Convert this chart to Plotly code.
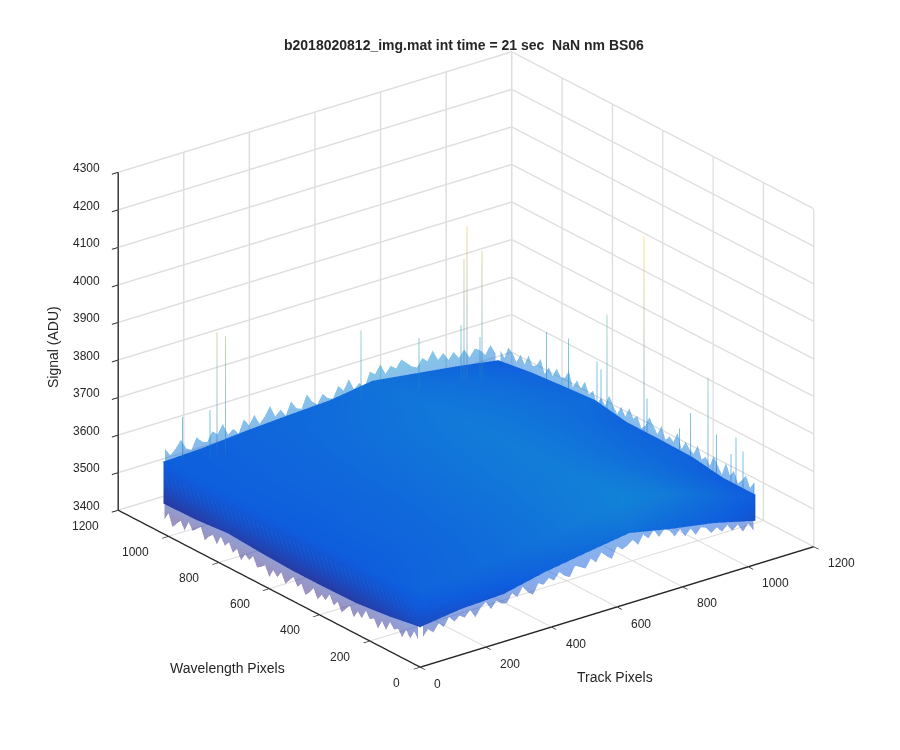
import plotly.graph_objects as go
import numpy as np

TITLE = "<b>b2018020812_img.mat int time = 21 sec \u00a0NaN nm BS06</b>"
TICKS_XY = [0, 200, 400, 600, 800, 1000, 1200]
TICKS_Z = [3400, 3500, 3600, 3700, 3800, 3900, 4000, 4100, 4200, 4300]

track_px = [0, 128, 256, 384, 512, 640, 768, 896, 1024]
wave_px = [0, 128, 256, 384, 512, 640, 768, 896, 1024]

# upper envelope of the noisy signal (rows: wavelength, columns: track)
signal_upper = [
    [3600, 3612, 3622, 3640, 3660, 3675, 3655, 3620, 3585],
    [3590, 3605, 3618, 3635, 3655, 3668, 3650, 3620, 3585],
    [3585, 3600, 3615, 3632, 3650, 3662, 3645, 3620, 3598],
    [3585, 3600, 3612, 3630, 3648, 3660, 3645, 3622, 3600],
    [3585, 3598, 3610, 3628, 3645, 3658, 3645, 3625, 3600],
    [3588, 3598, 3610, 3625, 3642, 3655, 3645, 3628, 3615],
    [3590, 3598, 3608, 3622, 3638, 3650, 3640, 3625, 3608],
    [3590, 3596, 3606, 3618, 3630, 3642, 3632, 3618, 3600],
    [3590, 3595, 3605, 3612, 3618, 3635, 3620, 3605, 3587],
]
# lower envelope along the two front edges
lower_front_track = [3505, 3520, 3525, 3550, 3568, 3585, 3562, 3543, 3515]
lower_front_wave = [3505, 3490, 3480, 3478, 3478, 3482, 3488, 3480, 3478]

# noise tips seen along the four edges (one every 16 pixels, starting at pixel 8)
edge_pixels = list(range(8, 1024, 16))
tips_back_left = [
    3622, 3601, 3615, 3634, 3607, 3598, 3628, 3612, 3606, 3631, 3618, 3642, 3609, 3620, 3603, 3637,
    3617, 3640, 3612, 3628, 3651, 3619, 3633, 3613, 3646, 3624, 3618, 3652, 3629, 3616, 3641, 3625,
    3620, 3649, 3632, 3658, 3627, 3640, 3622, 3661, 3650, 3672, 3643, 3660, 3648, 3668, 3655, 3641,
    3634, 3655, 3642, 3666, 3637, 3651, 3629, 3645, 3625, 3644, 3618, 3637, 3629, 3612, 3634, 3606]
tips_back_right = [
    3614, 3596, 3622, 3605, 3590, 3618, 3601, 3628, 3592, 3610, 3630, 3599, 3617, 3604, 3636, 3608,
    3615, 3629, 3603, 3642, 3612, 3621, 3606, 3638, 3610, 3627, 3644, 3616, 3604, 3631, 3618, 3640,
    3612, 3633, 3608, 3625, 3646, 3614, 3629, 3607, 3637, 3621, 3650, 3625, 3642, 3618, 3655, 3632,
    3628, 3646, 3620, 3638, 3614, 3649, 3626, 3619, 3641, 3612, 3632, 3607, 3626, 3635, 3601, 3616]
tips_front_track = [
    3478, 3495, 3482, 3502, 3488, 3510, 3494, 3505, 3496, 3512, 3488, 3509, 3520, 3497, 3515, 3503,
    3500, 3522, 3508, 3530, 3512, 3501, 3527, 3519, 3533, 3522, 3540, 3526, 3518, 3544, 3536, 3528,
    3550, 3536, 3558, 3544, 3532, 3561, 3549, 3555, 3566, 3548, 3571, 3557, 3575, 3552, 3568, 3560,
    3541, 3556, 3533, 3549, 3528, 3544, 3538, 3520, 3531, 3515, 3528, 3509, 3521, 3498, 3516, 3492]
tips_front_wave = [
    3470, 3487, 3462, 3480, 3455, 3472, 3464, 3478, 3452, 3470, 3445, 3466, 3458, 3475, 3450, 3462,
    3441, 3466, 3452, 3437, 3460, 3445, 3468, 3448, 3456, 3438, 3463, 3446, 3433, 3458, 3444, 3465,
    3450, 3436, 3460, 3442, 3455, 3431, 3457, 3447, 3440, 3464, 3449, 3458, 3436, 3462, 3445, 3468,
    3453, 3472, 3446, 3465, 3455, 3440, 3470, 3459, 3448, 3466, 3438, 3458, 3445, 3430, 3462, 3440]

# isolated hot pixels
spike_track = [1024, 1024, 1024, 1024, 1024, 1024, 1024, 1024, 1024, 1024, 1024, 1024, 1024, 1024, 1024,
               834, 879, 824, 815, 873, 687, 109, 136, 43, 88, 549]
spike_wave = [446, 592, 833, 746, 632, 616, 190, 260, 304, 158, 79, 51, 99, 8, 434,
              900, 900, 900, 900, 900, 900, 950, 950, 1000, 950, 950]
spike_peak = [4119, 3859, 3729, 3742, 3720, 3704, 3830, 3712, 3656, 3691, 3710, 3683, 3659, 3614, 3691,
              4038, 3960, 3953, 3780, 3733, 3779, 3931, 3913, 3707, 3731, 3819]

parula = [[0, "rgb(53,42,135)"], [0.1, "rgb(15,92,221)"], [0.2, "rgb(18,125,216)"],
          [0.3, "rgb(7,156,207)"], [0.4, "rgb(21,177,180)"], [0.5, "rgb(89,189,140)"],
          [0.6, "rgb(165,190,107)"], [0.7, "rgb(225,185,82)"], [0.8, "rgb(252,206,46)"],
          [1, "rgb(249,251,14)"]]
cmin, cmax = 3450, 4250
flat = dict(ambient=1, diffuse=0, specular=0, roughness=1, fresnel=0)
common = dict(colorscale=parula, cmin=cmin, cmax=cmax, showscale=False, lighting=flat, hoverinfo="skip")

fig = go.Figure()
upper = np.array(signal_upper, float)
top_colour = upper - 50
fig.add_trace(go.Surface(x=track_px, y=wave_px, z=upper, surfacecolor=top_colour, **common))
# front walls of the slab: from the lower envelope up to the top surface
fig.add_trace(go.Surface(x=track_px, y=[3, 3], z=[lower_front_track, upper[0]],
                         surfacecolor=[lower_front_track, top_colour[0]], **common))
fig.add_trace(go.Surface(x=[3, 3], y=wave_px,
                         z=np.array([lower_front_wave, upper[:, 0]]).T,
                         surfacecolor=np.array([lower_front_wave, top_colour[:, 0]]).T, **common))

# jagged translucent ribbons: the fringe of noise tips around the slab
n = len(edge_pixels)
for x, y, tips, start in [
    (edge_pixels, [1024, 1024], tips_back_left, 3570),
    ([1024, 1024], edge_pixels, tips_back_right, 3570),
    (edge_pixels, [0, 0], tips_front_track, 3590),
    ([0, 0], edge_pixels, tips_front_wave, 3560),
]:
    z = np.array([tips, [start] * n], float)
    colour = np.array([tips, [3560] * n], float)
    if len(x) == 2:
        z, colour = z.T, colour.T
    fig.add_trace(go.Surface(x=x, y=y, z=z, surfacecolor=colour, opacity=0.5, **common))

lx, ly, lz, lc = [], [], [], []
for a, b, c in zip(spike_track, spike_wave, spike_peak):
    lx += [a, a, None]
    ly += [b, b, None]
    lz += [3560, c, None]
    lc += [3560, c, 3560]
fig.add_trace(go.Scatter3d(x=lx, y=ly, z=lz, mode="lines", opacity=0.55, hoverinfo="skip",
                           line=dict(width=2, color=lc, colorscale=parula, cmin=cmin, cmax=cmax)))

axis = dict(showbackground=False, showgrid=True, gridcolor="rgb(222,222,222)", gridwidth=3,
            showline=True, linecolor="rgb(38,38,38)", linewidth=3, zeroline=False, showspikes=False,
            ticks="outside", tickcolor="rgb(38,38,38)", ticklen=8, tickwidth=2,
            showticklabels=False, title=dict(text=""))
label = dict(showarrow=False, font=dict(family="Liberation Sans", size=12, color="rgb(38,38,38)"))
labels = []
for t in TICKS_XY:
    labels.append(dict(label, x=t, y=0, z=3400, text=str(t), xanchor="left", xshift=12, yshift=-17))
    labels.append(dict(label, x=0, y=t, z=3400, text=str(t), xanchor="right", xshift=-18, yshift=-16))
for t in TICKS_Z:
    labels.append(dict(label, x=0, y=1200, z=t, text=str(t), xanchor="right", xshift=-17, yshift=4))
fig.update_layout(
    width=900, height=750, margin=dict(l=0, r=0, t=0, b=0), paper_bgcolor="white", showlegend=False,
    scene=dict(
        domain=dict(x=[0.036, 1], y=[0.042, 1]),
        aspectmode="manual", aspectratio=dict(x=1.38, y=1.38, z=1.025),
        xaxis=dict(axis, range=[0, 1200], tickvals=TICKS_XY),
        yaxis=dict(axis, range=[0, 1200], tickvals=TICKS_XY),
        zaxis=dict(axis, range=[3400, 4300], tickvals=TICKS_Z),
        camera=dict(eye=dict(x=-0.5585 * 1.6, y=-0.7277 * 1.6, z=0.399 * 1.6), center=dict(x=0, y=0, z=0),
                    up=dict(x=0, y=0, z=1), projection=dict(type="orthographic")),
        annotations=labels,
    ),
    annotations=[
        dict(text=TITLE, x=464, y=45, showarrow=False, font=dict(size=14)),
        dict(text="Track Pixels", x=615, y=677, showarrow=False),
        dict(text="Wavelength Pixels", x=227, y=668, showarrow=False),
        dict(text="Signal (ADU)", x=53, y=347, textangle=-90, showarrow=False),
    ],
    font=dict(family="Liberation Sans", size=14, color="rgb(38,38,38)"),
)
for a in fig.layout.annotations:
    a.update(xref="paper", yref="paper", x=a.x / 900, y=1 - a.y / 750, xanchor="center", yanchor="middle")
fig.write_html("out.html", config=dict(displayModeBar=False), post_script="document.body.style.margin='0';")
